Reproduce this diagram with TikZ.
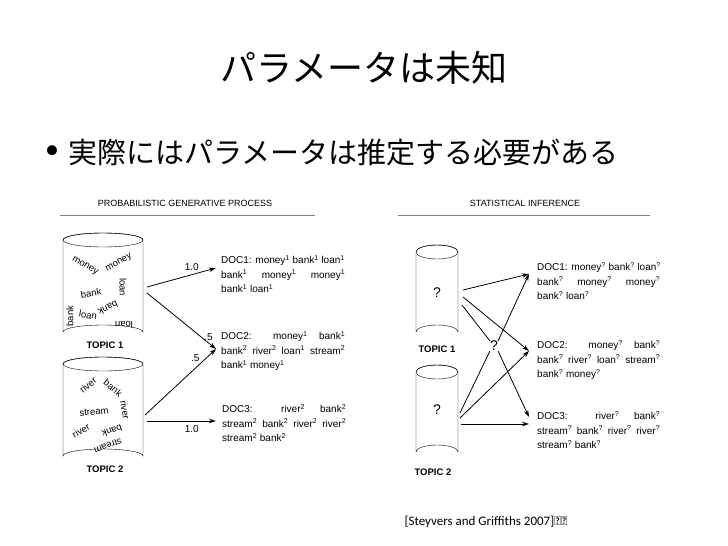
\documentclass[tikz,border=0pt]{standalone}
\usepackage{fontspec}
\setmainfont{Liberation Sans}
\newfontfamily\jpfont{Noto Sans CJK JP}
\newfontfamily\calfont{Carlito}
\usetikzlibrary{arrows.meta}
\newcommand{\up}[1]{\textsuperscript{#1}}
% draw a drum: centre x, top y, half width, bottom y
\newcommand{\drum}[4]{%
  \draw[thin, fill=white] (#1-#3,#2) -- (#1-#3,#4) arc[start angle=180, end angle=360, x radius=#3, y radius=7]
    -- (#1+#3,#2) arc[start angle=0, end angle=-180, x radius=#3, y radius=7];
  \draw[thin] (#1,#2) ellipse[x radius=#3, y radius=7];}
\tikzset{
  head/.style = {font=\fontsize{9}{10}\selectfont, inner sep=0pt},
  topic/.style = {font=\fontsize{9.5}{10}\selectfont\bfseries, inner sep=0pt},
  doc/.style = {font=\fontsize{10}{14.5}\selectfont, anchor=north west, inner sep=0pt, align=left},
  word/.style = {font=\fontsize{9.5}{10}\selectfont, inner sep=0pt},
  qmark/.style = {font=\fontsize{14}{16}\selectfont, inner sep=0pt},
  arrow/.style = {-{Stealth[length=7pt, width=4.5pt]}, thick},
  weight/.style = {font=\fontsize{10}{11}\selectfont, inner sep=0pt},
}
\begin{document}
\begin{tikzpicture}[x=1pt, y=-1pt]
  \useasboundingbox (0,0) rectangle (728,546);
  % title and bullet
  \node[font=\jpfont\fontsize{36}{40}\selectfont] (title) at (364,68) {パラメータは未知};
  \node[anchor=west, font=\jpfont\fontsize{29}{32}\selectfont, inner sep=0pt] (point) at (68,152) {実際にはパラメータは推定する必要がある};
  \node[font=\calfont\fontsize{28}{32}\selectfont, inner sep=0pt] (dot) at (52,152) {•};
  % left panel
  \node[head] (lhead) at (185,203) {PROBABILISTIC GENERATIVE PROCESS};
  \draw[gray, thin] (60,215) -- (315,215);
  \drum{103}{240}{40}{332}
  \drum{103}{364}{40}{456}
  \node[topic] (ltopic1) at (105,345) {TOPIC 1};
  \node[topic] (ltopic2) at (105,469) {TOPIC 2};
  \foreach \w/\p/\r in {money/{85,266}/-30, money/{119,263}/30, loan/{123,287}/-90,
      bank/{91,293}/10, bank/{108,308}/-155, loan/{88,315}/-10, bank/{70,316}/90, loan/{124,325}/180,
      river/{88,385}/40, bank/{113,388}/-40, river/{125,410}/-80, stream/{94,412}/5,
      river/{81,431}/30, bank/{112,431}/200, stream/{108,446}/-160}
    \node[word, rotate=\r] at (\p) {\w};
  \coordinate (l1a) at (147,287);
  \coordinate (l1b) at (147,293);
  \coordinate (l2a) at (145,415);
  \coordinate (l2b) at (147,421);
  \coordinate (le1) at (216,268);
  \coordinate (le2) at (216,349);
  \coordinate (le3) at (216,421);
  \node[doc] (ldoc1) at (221,255) {DOC1: money\up1 bank\up1 loan\up1\\
    \makebox[124pt][s]{bank\up1 money\up1 money\up1}\\ bank\up1 loan\up1};
  \node[doc] (ldoc2) at (221,331) {\makebox[124pt][s]{DOC2: money\up1 bank\up1}\\
    \makebox[124pt][s]{bank\up2 river\up2 loan\up1 stream\up2}\\ bank\up1 money\up1};
  \node[doc] (ldoc3) at (222,404) {\makebox[124pt][s]{DOC3: river\up2 bank\up2}\\
    \makebox[124pt][s]{stream\up2 bank\up2 river\up2 river\up2}\\ stream\up2 bank\up2};
  \draw[arrow] (l1a) -- (le1) node[weight, pos=0.65, above=4pt] {1.0};
  \draw[arrow] (l1b) -- (le2) node[weight, pos=0.78, right=3pt] {.5};
  \draw[arrow] (l2a) -- (le2) node[weight, pos=0.8, left=2pt, yshift=4pt] {.5};
  \draw[arrow] (l2b) -- (le3) node[weight, pos=0.65, below=4pt] {1.0};
  % right panel
  \node[head] (rhead) at (525,203) {STATISTICAL INFERENCE};
  \draw[gray, thin] (398,215) -- (650,215);
  \drum{437}{252}{21}{332}
  \drum{437}{372}{21}{452}
  \node[qmark] (rq1) at (437,293) {?};
  \node[qmark] (rq2) at (437,410) {?};
  \node[qmark] (rqmid) at (494,346) {?};
  \node[topic] (rtopic1) at (437,349) {TOPIC 1};
  \node[topic] (rtopic2) at (433,472) {TOPIC 2};
  \node[doc] (rdoc1) at (537,262) {DOC1: money\up? bank\up? loan\up?\\
    \makebox[123pt][s]{bank\up? money\up? money\up?}\\ bank\up? loan\up?};
  \node[doc] (rdoc2) at (537,340) {\makebox[123pt][s]{DOC2: money\up? bank\up?}\\
    \makebox[123pt][s]{bank\up? river\up? loan\up? stream\up?}\\ bank\up? money\up?};
  \node[doc] (rdoc3) at (537,411) {\makebox[123pt][s]{DOC3: river\up? bank\up?}\\
    \makebox[123pt][s]{stream\up? bank\up? river\up? river\up?}\\ stream\up? bank\up?};
  \coordinate (r1a) at (463,290);
  \coordinate (r1b) at (463,297);
  \coordinate (r1c) at (462,305);
  \coordinate (r2a) at (460,413);
  \coordinate (r2b) at (460,418);
  \coordinate (r2c) at (461,424);
  \coordinate (d1) at (529,274);
  \coordinate (d2) at (529,351);
  \coordinate (d3) at (529,417);
  \coordinate (d3b) at (529,424);
  \draw[arrow] (r1a) -- (d1);
  \draw[arrow] (r1b) -- (d2);
  \draw[thick] (r1c) -- (rqmid.north west);
  \draw[thick] (r2a) -- (rqmid.south west);
  \draw[arrow] (rqmid.north east) -- (d1);
  \draw[arrow] (rqmid.south east) -- (d3);
  \draw[arrow] (r2b) -- (d2);
  \draw[arrow] (r2c) -- (d3b);
  % source
  \node[font=\calfont\fontsize{13}{15}\selectfont, inner sep=0pt] (cite) at (486,522) {[Steyvers and Griffiths 2007]より};
\end{tikzpicture}
\end{document}
